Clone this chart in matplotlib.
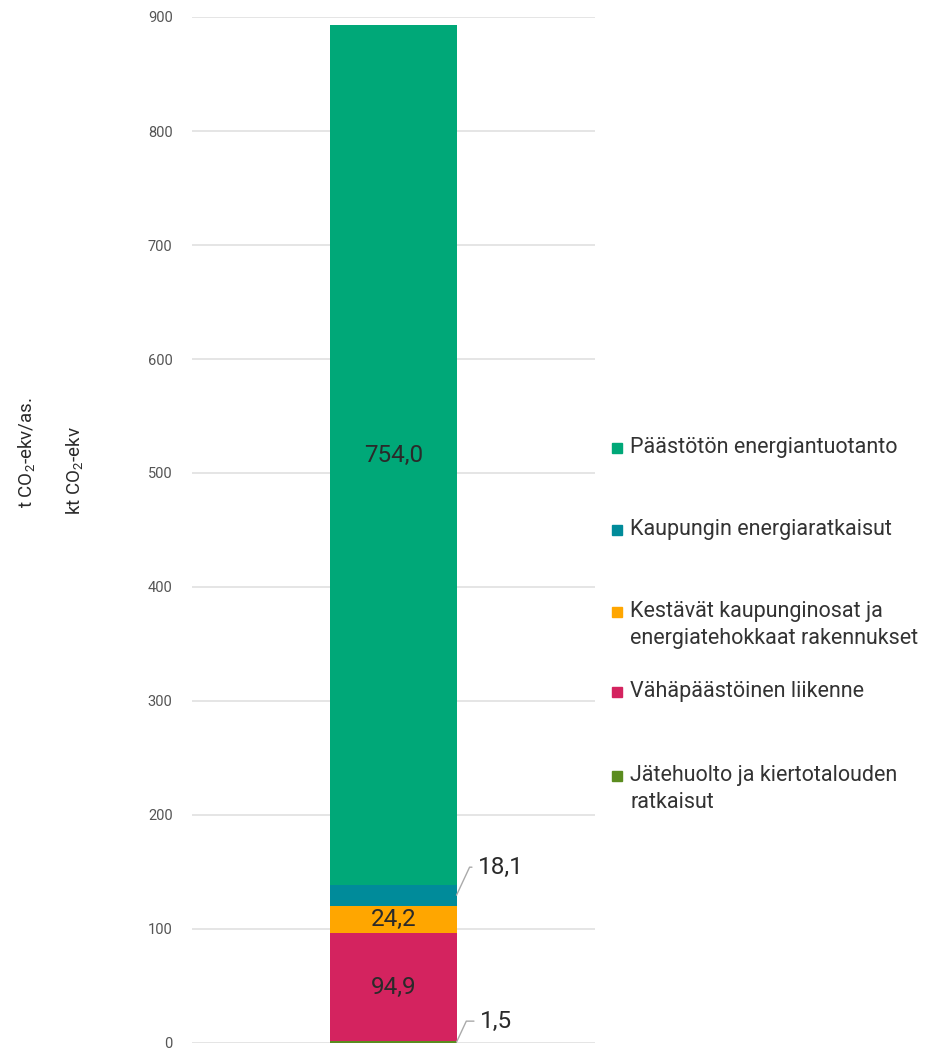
import matplotlib
matplotlib.use("Agg")
import matplotlib.pyplot as plt

# ---- data ----
categories = ["Jätehuolto ja kiertotalouden\nratkaisut",
              "Vähäpäästöinen liikenne",
              "Kestävät kaupunginosat ja\nenergiatehokkaat rakennukset",
              "Kaupungin energiaratkaisut",
              "Päästötön energiantuotanto"]
values = [1.5, 94.9, 24.2, 18.1, 754.0]
value_labels = ["1,5", "94,9", "24,2", "18,1", "754,0"]
colors = ["#5b8c1f", "#d4235f", "#ffa600", "#008b9a", "#00a878"]
yticks = [0, 100, 200, 300, 400, 500, 600, 700, 800, 900]
ylabel_outer = r"t CO$_2$-ekv/as."
ylabel_inner = r"kt CO$_2$-ekv"

plt.rcParams['font.family'] = ['Roboto', 'DejaVu Sans']
plt.rcParams['mathtext.fontset'] = 'custom'
plt.rcParams['mathtext.rm'] = 'Roboto'

W, H = 947, 1060
fig = plt.figure(figsize=(W / 100, H / 100), dpi=100)
ax = fig.add_axes([192 / W, 17 / H, (595 - 192) / W, (1043 - 17) / H])

ax.set_xlim(-0.5, 0.5)
ax.set_ylim(0, 900)
ax.set_yticks(yticks)
ax.set_yticklabels([str(t) for t in yticks], fontsize=10.5, color="#555555")
ax.tick_params(axis="y", length=0, pad=14)
ax.set_xticks([])
for s in ax.spines.values():
    s.set_visible(False)
ax.yaxis.grid(True, color="#dedede", lw=1.1)
ax.set_axisbelow(True)

bar_w = 0.3127
bottom = 0
bars = []
for v, c in zip(values, colors):
    ax.bar(0, v, bottom=bottom, width=bar_w, color=c, zorder=3)
    bars.append((bottom, v))
    bottom += v

edge = bar_w / 2
# inside labels
for i in (1, 2, 4):
    b0, v = bars[i]
    ax.text(0, b0 + v / 2, value_labels[i], ha="center", va="center",
            fontsize=17.5, color="#2a2a2a", zorder=4)

# outside labels with leader lines
for i, (dx, dy) in ((3, (21, 28)), (0, (23, 21))):
    b0, v = bars[i]
    ax.annotate(value_labels[i], xy=(edge, b0 + v / 2), xycoords="data",
                xytext=(dx, dy), textcoords="offset pixels",
                ha="left", va="center", fontsize=17.5, color="#2a2a2a",
                arrowprops=dict(arrowstyle="-", color="#aaaaaa", lw=1,
                                shrinkA=2, shrinkB=0, relpos=(0, 0.5),
                                connectionstyle="angle,angleA=0,angleB=65,rad=0"),
                zorder=5)

# y labels
fig.text(27 / W, 1 - 453 / H, ylabel_outer, rotation=90, ha="center", va="center",
         fontsize=13.5, color="#2a2a2a")
fig.text(75 / W, 1 - 471 / H, ylabel_inner, rotation=90, ha="center", va="center",
         fontsize=13.5, color="#2a2a2a")

# legend (top to bottom: reverse stacking order)
leg_y = [448, 530, 612, 692, 776]
for k, idx in enumerate([4, 3, 2, 1, 0]):
    y = leg_y[k]
    fig.patches.append(plt.Rectangle((612 / W, 1 - (y + 5) / H), 10 / W, 10 / H,
                                     transform=fig.transFigure, color=colors[idx]))
    fig.text(630 / W, 1 - (y - 11) / H, categories[idx], ha="left", va="top",
             fontsize=15.5, color="#333333", linespacing=1.4)

fig.savefig("out.png", dpi=100)
